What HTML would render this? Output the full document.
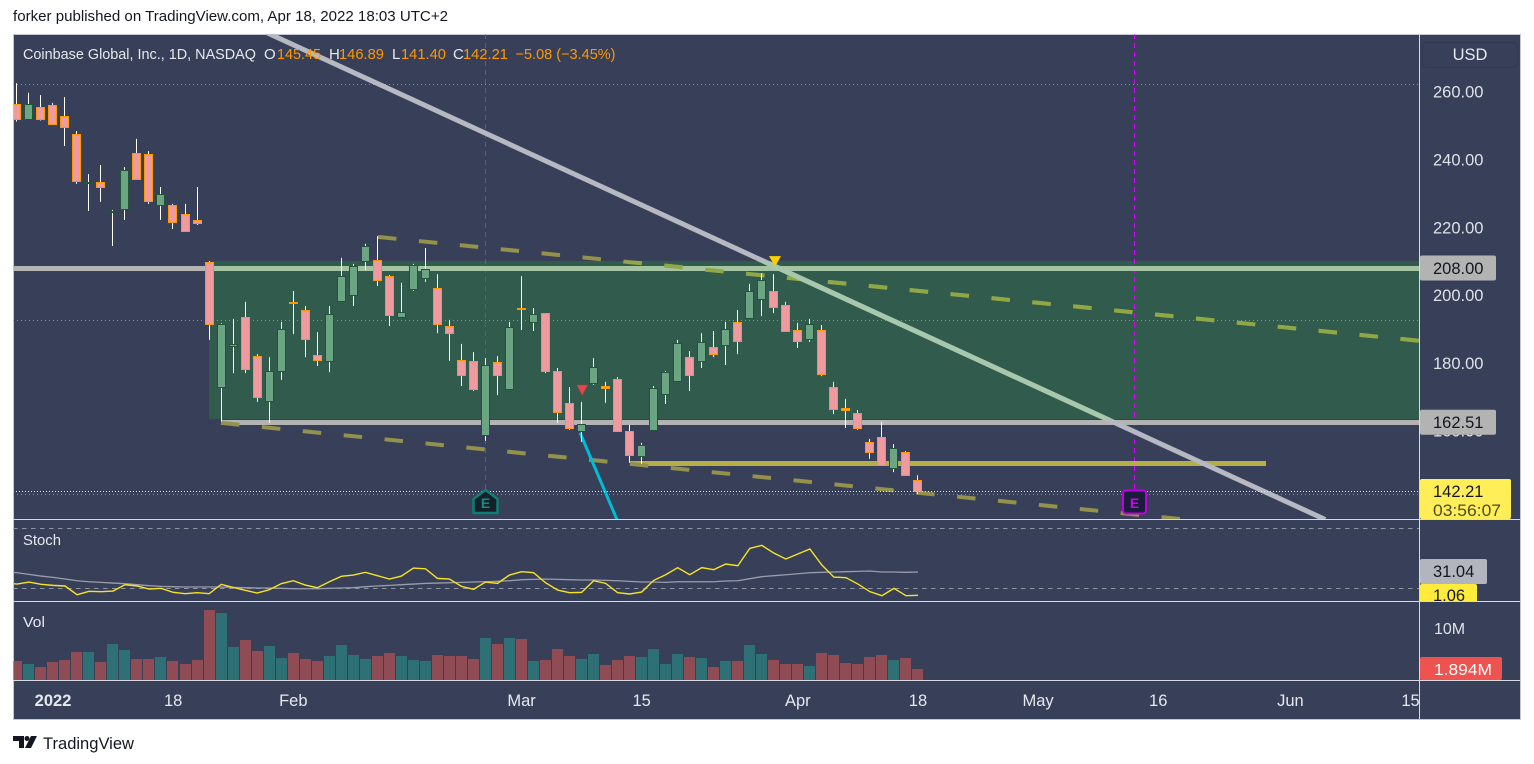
<!DOCTYPE html>
<html lang="en">
<head>
<meta charset="utf-8">
<title>Coinbase Global, Inc. 1D chart</title>
<style>
html,body{margin:0;padding:0;background:#fff;width:1534px;height:764px;overflow:hidden}
svg{display:block;font-family:"Liberation Sans",sans-serif}
</style>
</head>
<body>
<svg id="chart" xmlns="http://www.w3.org/2000/svg" width="1534" height="764" viewBox="0 0 1534 764">
  <defs>
    <clipPath id="clip-main"><rect x="13.5" y="34.5" width="1405.5" height="485"/></clipPath>
    <clipPath id="clip-stoch-axis"><rect x="1420" y="520" width="100" height="81"/></clipPath>
    <clipPath id="clip-stoch"><rect x="13.5" y="520" width="1405.5" height="81"/></clipPath>
    <clipPath id="clip-vol"><rect x="13.5" y="602" width="1405.5" height="78"/></clipPath>
    <clipPath id="clip-zone"><rect id="clip-zone-rect" x="0" y="0" width="0" height="0"/></clipPath>
    <clipPath id="clip-time"><rect x="13.5" y="681" width="1405.5" height="38"/></clipPath>
  </defs>

  <text x="13" y="21" font-size="15" fill="#131722" textLength="435" lengthAdjust="spacingAndGlyphs">forker published on TradingView.com, Apr 18, 2022 18:03 UTC+2</text>

  <rect x="13.5" y="34.5" width="1507" height="685" fill="#384059" stroke="#c5c8d2" stroke-width="1"/>

  <g id="main-under" clip-path="url(#clip-main)"></g>
  <g id="main-candles" clip-path="url(#clip-main)"></g>
  <g id="main-over" clip-path="url(#clip-main)"></g>
  <g id="stoch-pane" clip-path="url(#clip-stoch)"></g>
  <g id="vol-pane" clip-path="url(#clip-vol)"></g>

  <line x1="1419.5" y1="34" x2="1419.5" y2="719" stroke="#d8dae2"/>
  <line x1="13" y1="519.5" x2="1520" y2="519.5" stroke="#d8dae2"/>
  <line x1="13" y1="601.5" x2="1520" y2="601.5" stroke="#d8dae2"/>
  <line x1="13" y1="680.5" x2="1520" y2="680.5" stroke="#d8dae2"/>

  <g id="legend" font-size="15">
    <text x="23" y="59" fill="#e6e8ee" textLength="233" lengthAdjust="spacingAndGlyphs">Coinbase Global, Inc., 1D, NASDAQ</text>
    <text x="264" y="59" fill="#e6e8ee">O</text>
    <text x="277" y="59" fill="#ff9800" textLength="44" lengthAdjust="spacingAndGlyphs">145.45</text>
    <text x="329" y="59" fill="#e6e8ee">H</text>
    <text x="339" y="59" fill="#ff9800" textLength="45" lengthAdjust="spacingAndGlyphs">146.89</text>
    <text x="392" y="59" fill="#e6e8ee">L</text>
    <text x="401" y="59" fill="#ff9800" textLength="45" lengthAdjust="spacingAndGlyphs">141.40</text>
    <text x="453" y="59" fill="#e6e8ee">C</text>
    <text x="463" y="59" fill="#ff9800" textLength="45" lengthAdjust="spacingAndGlyphs">142.21</text>
    <text x="515.5" y="59" fill="#ff9800" textLength="100" lengthAdjust="spacingAndGlyphs">−5.08 (−3.45%)</text>
  </g>

  <rect x="1422.5" y="42.5" width="95" height="25" rx="5" fill="none" stroke="#333a50"/>
  <text x="1470" y="60" text-anchor="middle" font-size="16.5" fill="#e6e8ee">USD</text>

  <g id="price-ticks"></g>
  <g id="time-ticks" clip-path="url(#clip-time)"></g>

  <g id="price-labels"></g>

  <text x="23" y="545" font-size="15" fill="#e6e8ee" textLength="38" lengthAdjust="spacingAndGlyphs">Stoch</text>
  <text x="23" y="627" font-size="15" fill="#e6e8ee" textLength="22" lengthAdjust="spacingAndGlyphs">Vol</text>

  <g>
    <polygon points="13,736 24,736 24,748 19,748 19,741 13,741" fill="#131722"/>
    <circle cx="27" cy="738.5" r="2.5" fill="#131722"/>
    <polygon points="31,736 37,736 31,748 25,748" fill="#131722"/>
    <text x="43" y="749" font-size="16.5" fill="#131722" textLength="91" lengthAdjust="spacingAndGlyphs">TradingView</text>
  </g>
</svg>

<script>
// ---- OHLC series ----
const opens = [256.3,252.0,255.4,256.0,252.8,247.4,233.1,233.3,224.4,225.3,241.8,241.5,226.5,226.5,223.8,222.2,209.7,173.0,185.0,193.5,182.0,168.9,177.7,198.0,195.5,182.2,180.7,198.4,200.1,210.0,210.4,205.6,193.5,201.9,205.1,202.0,190.8,180.8,180.5,158.8,180.2,172.4,196.2,192.0,194.6,177.5,168.1,160.0,174.2,173.2,175.2,159.8,152.6,160.3,170.7,174.8,181.7,180.5,184.6,185.2,192.0,193.2,198.8,201.1,197.0,189.6,187.1,189.6,172.8,166.6,165.1,156.6,158.1,148.9,153.6,145.45];
const highs = [262.5,259.7,259.0,256.7,258.4,248.4,235.7,238.4,225.1,237.8,246.1,242.5,231.9,226.9,226.9,231.9,210.1,191.7,193.0,198.0,182.6,181.7,192.1,201.2,196.8,189.1,196.8,211.0,209.2,215.1,217.4,205.9,203.6,209.2,213.9,206.2,192.7,185.6,183.2,181.4,182.0,192.1,205.6,196.2,194.7,178.5,172.9,168.5,181.4,174.4,175.8,161.7,156.4,173.2,177.6,186.8,183.5,188.8,189.4,192.1,195.6,203.3,206.5,206.2,198.0,191.8,193.0,191.2,174.4,169.4,166.1,157.6,162.6,156.1,154.0,146.89];
const lows = [251.2,251.7,251.5,250.6,244.0,232.8,224.8,227.5,214.5,222.2,234.3,226.9,222.2,219.5,218.8,220.7,186.8,162.7,177.0,177.0,168.5,162.3,175.0,188.5,181.7,179.1,177.3,198.0,196.8,207.4,202.7,190.9,193.3,201.2,203.9,188.8,180.6,173.2,171.7,157.0,170.5,172.0,189.7,189.4,177.0,162.3,160.2,156.7,173.5,168.2,160.0,150.5,150.2,160.1,167.9,174.8,171.7,178.5,181.7,179.4,182.6,193.2,193.8,194.7,189.5,184.4,186.2,176.1,164.9,160.8,160.2,151.7,149.8,147.8,146.9,141.40];
const closes = [252.0,256.3,252.0,250.6,249.7,233.8,233.4,232.0,224.7,236.8,234.3,227.9,229.7,221.7,219.0,221.4,191.6,191.4,185.6,178.3,170.0,177.5,189.9,197.7,187.1,180.9,194.3,205.6,208.5,214.4,204.5,194.2,194.9,208.8,207.6,191.6,188.9,176.5,172.4,179.3,176.5,190.5,195.9,194.3,177.7,165.6,160.9,161.9,178.7,172.7,160.0,152.9,155.9,172.5,177.2,185.8,176.5,186.1,182.7,189.9,186.6,201.1,204.4,196.4,189.5,186.6,191.4,176.8,166.5,166.0,160.9,153.8,149.8,154.8,147.0,142.21];

// ---- Volume in millions ----
const volumes = [3.28,2.76,2.24,3.10,3.45,4.83,4.83,3.10,6.21,5.17,3.62,3.62,3.97,3.28,2.76,3.45,12.07,11.55,5.69,6.90,5.00,5.86,3.79,4.66,3.62,3.28,4.14,6.03,4.31,3.62,4.14,4.66,4.14,3.45,3.28,4.31,4.14,4.14,3.62,7.24,6.21,7.24,7.07,3.28,3.45,5.34,4.14,3.62,4.48,2.59,3.45,4.14,3.97,5.34,2.76,4.48,3.97,3.79,2.24,3.28,3.28,6.03,4.48,3.45,2.76,2.76,2.41,4.66,4.31,2.93,2.76,3.97,4.31,3.45,3.79,1.894];

// ---- Stochastic (previous-bar value continues the line off the left edge) ----
const stochKBefore = 17.0;
const stochDBefore = 31.6;
const stochK = [15.5,18.1,15.1,13.8,13.0,1.8,6.1,5.7,6.5,14.7,13.0,9.1,10.0,4.8,3.1,4.4,3.1,15.1,11.2,7.4,3.9,8.2,16.0,19.8,14.2,10.8,18.5,25.4,27.1,30.6,26.3,22.0,25.8,36.1,35.2,22.8,22.0,12.5,8.7,18.1,16.4,27.1,31.4,30.1,17.2,7.8,4.4,4.8,19.8,16.4,4.4,2.7,5.2,20.2,27.5,36.6,27.5,36.6,34.0,41.3,39.1,61.4,65.3,55.4,47.7,54.2,60.6,40.0,24.5,23.7,15.5,5.7,0.5,10.0,0.5,1.06];
const stochD = [30.1,28.0,25.8,24.1,22.0,19.8,18.5,17.7,16.8,16.0,14.7,13.4,12.5,12.1,11.7,11.7,11.7,11.7,11.2,10.8,10.4,10.4,10.0,9.5,9.5,9.5,10.0,10.4,10.8,12.1,13.0,13.8,14.7,15.5,16.4,16.8,17.2,17.7,18.1,18.5,19.0,19.8,21.1,21.5,22.0,21.5,21.1,20.7,20.7,20.2,19.8,19.0,18.1,18.1,17.7,18.5,18.5,18.5,18.5,19.4,19.8,22.4,25.0,26.3,27.5,28.8,30.1,30.6,31.0,31.4,31.8,32.3,31.0,31.0,30.6,31.04];
const stochLevels = [87.6,10.4];

// ---- Axis labels ----
const priceTicks = [260,240,220,200,180,160];
const timeTickLabels = ['2022','18','Feb','Mar','15','Apr','18','May','16','Jun','15'];
const timeTickBars = [3,13,23,42,52,65,75,85,95,106,116];
const gridLevels = [262.3,192.8,141.3];

// ---- Drawings, as [bar index, price] pairs ----
const trendLine = [[20.2,278.4],[108.9,133.8]];
const channelTop = [[30.05,217.15],[116.8,186.5]];
const channelBottom = [[16.98,162.3],[97.64,133.66]];
const tealLine = [[46.87,159.4],[50.03,133.07]];
const oliveLevel = [[51.03,150.3],[103.97,150.3]];
const resistance = 208.0;
const support = 162.51;
const supportStartBar = 17;
const zoneBars = [15.98,116.8];
const zonePrices = [210.07,163.45];
const earningsBars = [39,93];
const sellMarker = [47.05,173.5];
const topMarker = [63.1,211.5];
const lastPrice = 142.21;

// ---- Axis functions ----
function xBar(i){return Math.floor(16.82+12.013*i)+0.5;}
function xCont(i){return 17+12.013*i;}
function yPrice(p){return 268+(208-p)*3.39;}
function yStoch(v){return 596.1-0.777*v;}
function yVol(m){return 680-m*5.8;}
function snap(v){return Math.floor(v)+0.5;}

const NS='http://www.w3.org/2000/svg';
function mk(tag,attrs,parent){
  const el=document.createElementNS(NS,tag);
  for(const k in attrs){el.setAttribute(k,attrs[k]);}
  parent.appendChild(el);
  return el;
}
const under=document.getElementById('main-under');
const candlesG=document.getElementById('main-candles');
const over=document.getElementById('main-over');
const stochG=document.getElementById('stoch-pane');
const volG=document.getElementById('vol-pane');
const priceTickG=document.getElementById('price-ticks');
const timeTickG=document.getElementById('time-ticks');
const labelG=document.getElementById('price-labels');

// zone geometry
const zx1=xCont(zoneBars[0]), zx2=xCont(zoneBars[1]), zy1=yPrice(zonePrices[0]), zy2=yPrice(zonePrices[1]);
const zr=document.getElementById('clip-zone-rect');
zr.setAttribute('x',zx1);zr.setAttribute('y',zy1);zr.setAttribute('width',zx2-zx1);zr.setAttribute('height',zy2-zy1);

let el=mk('rect',{x:zx1,y:zy1,width:zx2-zx1,height:zy2-zy1,fill:'#315b4c'},under);



// grid levels
gridLevels.forEach(function(p){
  const g=mk('line',{x1:13,x2:1419,y1:Math.round(yPrice(p))+0.5,y2:Math.round(yPrice(p))+0.5,stroke:'#8b90a0','stroke-width':1,'stroke-dasharray':'1 3'},under);
  
  
});

// earnings vertical lines
el=mk('line',{x1:xBar(earningsBars[0]),x2:xBar(earningsBars[0]),y1:34,y2:490,stroke:'#1b7f72','stroke-width':1,'stroke-dasharray':'5 4'},under);


el=mk('line',{x1:snap(xCont(earningsBars[1])),x2:snap(xCont(earningsBars[1])),y1:34,y2:490,stroke:'#e000ff','stroke-width':1,'stroke-dasharray':'5 4'},under);



// drawing lines
function pts(seg){return {x1:xCont(seg[0][0]),y1:yPrice(seg[0][1]),x2:xCont(seg[1][0]),y2:yPrice(seg[1][1])};}
function withStyle(seg,style){return Object.assign(pts(seg),style);}

el=mk('line',{x1:13,x2:1419,y1:snap(yPrice(resistance)),y2:snap(yPrice(resistance)),stroke:'#b3b3b3','stroke-width':5},under);


el=mk('line',{x1:xCont(supportStartBar),x2:1419,y1:snap(yPrice(support)),y2:snap(yPrice(support)),stroke:'#b3b3b3','stroke-width':5},under);


el=mk('line',{x1:xCont(oliveLevel[0][0]),x2:xCont(oliveLevel[1][0]),y1:snap(yPrice(oliveLevel[0][1])),y2:snap(yPrice(oliveLevel[1][1])),stroke:'#b5ad47','stroke-width':5},under);


el=mk('line',withStyle(channelTop,{stroke:'#93914c','stroke-width':4,'stroke-dasharray':'18.5 22.6'}),under);


el=mk('line',withStyle(channelBottom,{stroke:'#93914c','stroke-width':4,'stroke-dasharray':'18.5 22.6'}),under);


el=mk('line',withStyle(trendLine,{stroke:'#b6b8c2','stroke-width':5}),under);


el=mk('line',withStyle(tealLine,{stroke:'#00bcd4','stroke-width':3}),under);



// lighter copies of the lines inside the zone
const zoneLines=mk('g',{'clip-path':'url(#clip-zone)'},under);


el=mk('line',{x1:13,x2:1419,y1:snap(yPrice(resistance)),y2:snap(yPrice(resistance)),stroke:'#a5c4a4','stroke-width':5},zoneLines);


el=mk('line',withStyle(channelTop,{stroke:'#8fa845','stroke-width':4,'stroke-dasharray':'18.5 22.6'}),zoneLines);


el=mk('line',withStyle(trendLine,{stroke:'#a8c8ae','stroke-width':5}),zoneLines);



// candles
opens.forEach(function(o,i){
  const c=closes[i], x=xBar(i), up=c>o;
  const w=mk('line',{x1:x,x2:x,y1:yPrice(highs[i]),y2:yPrice(lows[i]),stroke:'#ffffff','stroke-width':1},candlesG);
  
  
  const t=Math.round(yPrice(Math.max(o,c)))+0.5;
  const b=Math.round(yPrice(Math.min(o,c)))+0.5;
  const r=mk('rect',{x:x-4,y:t,width:8,height:Math.max(b-t,1),fill:up?'#6ba583':'#ef9a9e',stroke:up?'#225437':'#ff9800','stroke-width':1},candlesG);
  
  
});

// last price dotted line
el=mk('line',{x1:13,x2:1419,y1:Math.round(yPrice(lastPrice))+0.5,y2:Math.round(yPrice(lastPrice))+0.5,stroke:'#ffee58','stroke-width':1,'stroke-dasharray':'1 2'},over);



// markers
function triangle(bar,price,half,h){
  const cx=xCont(bar), ty=yPrice(price);
  return (cx-half)+','+ty+' '+(cx+half)+','+ty+' '+cx+','+(ty+h);
}
el=mk('polygon',{points:triangle(sellMarker[0],sellMarker[1],5.5,10.5),fill:'#e2474f',stroke:'#a83a48','stroke-width':0.5},over);


el=mk('polygon',{points:triangle(topMarker[0],topMarker[1],6,10.5),fill:'#ffd000'},over);



// earnings badges
const ex1=xBar(earningsBars[0]);
el=mk('polygon',{points:(ex1-12)+',499 '+ex1+',490 '+(ex1+12)+',499 '+(ex1+12)+',513 '+(ex1-12)+',513',fill:'#15202b',stroke:'#0d7f72','stroke-width':2.5,'stroke-linejoin':'round'},over);


el=mk('text',{x:ex1,y:508,'text-anchor':'middle','font-size':14,'font-weight':'bold',fill:'#0f9182'},over);
el.textContent='E';


const ex2=snap(xCont(earningsBars[1]));
el=mk('rect',{x:ex2-11.5,y:490.5,width:23,height:23,rx:3,fill:'#191c3a',stroke:'#c000e0','stroke-width':2},over);


el=mk('text',{x:ex2,y:508,'text-anchor':'middle','font-size':14,'font-weight':'bold',fill:'#d000f0'},over);
el.textContent='E';



// stochastic
stochLevels.forEach(function(v){
  const l=mk('line',{x1:13,x2:1419,y1:Math.round(yStoch(v))+0.5,y2:Math.round(yStoch(v))+0.5,stroke:'#8e93a2','stroke-width':1,'stroke-dasharray':'4.5 4.5'},stochG);
  
  
});
function stochPoints(before,vals){
  return [xCont(-1)+','+yStoch(before)].concat(vals.map(function(v,i){return xCont(i)+','+yStoch(v);})).join(' ');
}
el=mk('polyline',{points:stochPoints(stochDBefore,stochD),fill:'none',stroke:'#9a9dab','stroke-width':1.3},stochG);


el=mk('polyline',{points:stochPoints(stochKBefore,stochK),fill:'none',stroke:'#f5e326','stroke-width':1.4},stochG);



// volume
volumes.forEach(function(m,i){
  const up=closes[i]>opens[i];
  const x=xBar(i);
  const b=mk('rect',{x:x-5.5,y:yVol(m),width:11,height:680-yVol(m),fill:up?'#2f7077':'#904c54'},volG);
  
  
});

// price ticks
priceTicks.forEach(function(p){
  const t=mk('text',{x:1433,y:yPrice(p)+6,'font-size':16.5,fill:'#dfe1e8'},priceTickG);
  t.textContent=p.toFixed(2);
  
  
});
el=mk('text',{x:1434,y:634,'font-size':16,fill:'#dfe1e8'},priceTickG);
el.textContent='10M';



// time ticks
timeTickLabels.forEach(function(s,i){
  const t=mk('text',{x:xCont(timeTickBars[i]),y:706,'text-anchor':'middle','font-size':16.5,fill:'#e6e8ee'},timeTickG);
  if(s==='2022'){t.setAttribute('font-weight','bold');}
  t.textContent=s;
  
  
});

// price labels
function axisLabel(value,text,width,fill,textFill){
  const cy=yPrice(value);
  const g=mk('g',{},labelG);
  const r=mk('rect',{x:1420,y:cy-12.5,width:width,height:25,rx:2,fill:fill},g);
  
  
  const t=mk('text',{x:1433,y:cy+6,'font-size':16.5,fill:textFill},g);
  t.textContent=text;
  
  
  return g;
}
el=axisLabel(resistance,resistance.toFixed(2),76,'#b3b3b3','#131722');


el=axisLabel(support,support.toFixed(2),76,'#b3b3b3','#131722');



// last price label
el=mk('rect',{x:1420,y:479,width:91,height:40,rx:2,fill:'#ffee58'},labelG);


el=mk('text',{x:1433,y:yPrice(lastPrice)+6,'font-size':16.5,fill:'#131722'},labelG);
el.textContent=lastPrice.toFixed(2);


el=mk('text',{x:1433,y:516,'font-size':16.5,fill:'#4d4b26',textLength:68,lengthAdjust:'spacingAndGlyphs'},labelG);
el.textContent='03:56:07';



// stoch labels
const stochLabels=mk('g',{'clip-path':'url(#clip-stoch-axis)'},labelG);


el=mk('rect',{x:1420,y:559,width:67,height:25,rx:2,fill:'#b2b5be'},stochLabels);


el=mk('text',{x:1433,y:577,'font-size':16.5,fill:'#131722'},stochLabels);
el.textContent=stochD[stochD.length-1].toFixed(2);


el=mk('rect',{x:1420,y:584,width:57,height:25,rx:2,fill:'#ffeb3b'},stochLabels);


el=mk('text',{x:1433,y:601,'font-size':16.5,fill:'#131722'},stochLabels);
el.textContent=stochK[stochK.length-1].toFixed(2);



// volume label
el=mk('rect',{x:1420,y:657,width:82,height:23,rx:2,fill:'#ef5350'},labelG);


el=mk('text',{x:1434,y:675,'font-size':16,fill:'#ffffff',textLength:58,lengthAdjust:'spacingAndGlyphs'},labelG);
el.textContent=volumes[volumes.length-1].toFixed(3)+'M';


</script>
</body>
</html>
